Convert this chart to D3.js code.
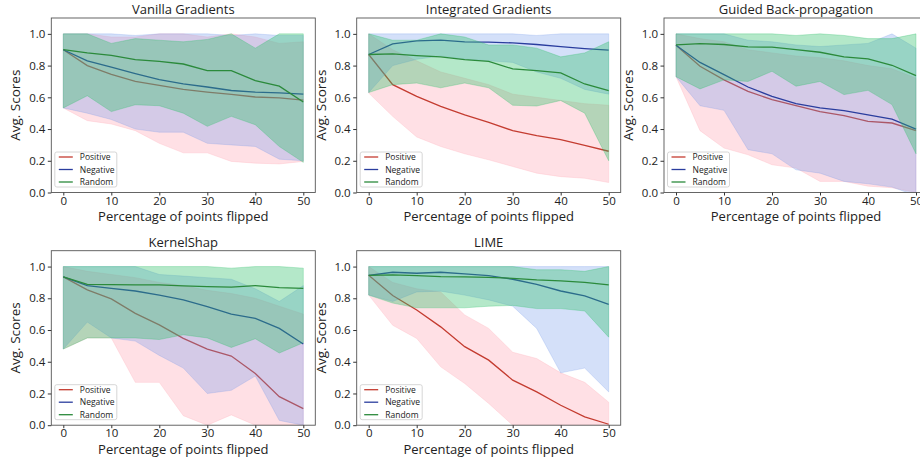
<!DOCTYPE html>
<html>
<head>
<meta charset="utf-8">
<script src="https://cdn.jsdelivr.net/npm/d3@7"></script>
<style>
  body { margin: 0; background: #fff; }
  svg { display: block; font-family: "Open Sans", "DejaVu Sans", sans-serif; }
</style>
</head>
<body>
<div class="visualizate"></div>
<script>
'use strict'

/* percentage of points flipped */
const flips = [0, 5, 10, 15, 20, 25, 30, 35, 40, 45, 50];
const xTicks = [0, 10, 20, 30, 40, 50];
const yTicks = [0, 0.2, 0.4, 0.6, 0.8, 1.0];
const seriesNames = ['Positive', 'Negative', 'Random'];
const titles = ['Vanilla Gradients', 'Integrated Gradients', 'Guided Back-propagation', 'KernelShap', 'LIME'];

/* Vanilla Gradients */
const vgPosMean = [0.90, 0.80, 0.745, 0.70, 0.675, 0.65, 0.633, 0.618, 0.602, 0.597, 0.582];
const vgPosLow  = [0.533, 0.453, 0.432, 0.39, 0.31, 0.25, 0.25, 0.196, 0.185, 0.18, 0.196];
const vgPosHigh = [1.0, 1.0, 0.98, 0.98, 1.0, 1.0, 0.98, 1.0, 0.98, 0.94, 0.95];
const vgNegMean = [0.90, 0.83, 0.79, 0.75, 0.712, 0.685, 0.665, 0.643, 0.633, 0.628, 0.62];
const vgNegLow  = [0.533, 0.50, 0.46, 0.40, 0.38, 0.38, 0.31, 0.30, 0.29, 0.21, 0.20];
const vgNegHigh = [1.0, 1.0, 1.0, 0.99, 1.0, 1.0, 1.0, 0.99, 1.0, 0.99, 0.99];
const vgRndMean = [0.90, 0.88, 0.865, 0.838, 0.827, 0.81, 0.768, 0.768, 0.705, 0.67, 0.57];
const vgRndLow  = [0.533, 0.61, 0.51, 0.553, 0.547, 0.50, 0.417, 0.48, 0.427, 0.29, 0.19];
const vgRndHigh = [1.0, 1.0, 0.94, 0.97, 0.96, 0.95, 0.965, 1.0, 0.91, 1.0, 1.0];

/* Integrated Gradients */
const igPosMean = [0.87, 0.68, 0.606, 0.543, 0.49, 0.442, 0.39, 0.358, 0.333, 0.297, 0.26];
const igPosLow  = [0.627, 0.48, 0.35, 0.29, 0.244, 0.206, 0.164, 0.122, 0.10, 0.09, 0.063];
const igPosHigh = [1.0, 0.9, 0.83, 0.76, 0.72, 0.68, 0.62, 0.6, 0.58, 0.56, 0.55];
const igNegMean = [0.87, 0.937, 0.956, 0.96, 0.95, 0.948, 0.943, 0.933, 0.92, 0.907, 0.897];
const igNegLow  = [0.63, 0.80, 0.84, 0.86, 0.84, 0.83, 0.82, 0.76, 0.72, 0.65, 0.62];
const igNegHigh = [1.0, 1.0, 1.0, 1.0, 1.0, 1.0, 1.0, 0.99, 1.0, 1.0, 1.0];
const igRndMean = [0.87, 0.874, 0.863, 0.855, 0.838, 0.827, 0.779, 0.768, 0.754, 0.684, 0.642];
const igRndLow  = [0.63, 0.68, 0.69, 0.66, 0.69, 0.66, 0.55, 0.545, 0.58, 0.50, 0.20];
const igRndHigh = [1.0, 0.96, 0.96, 1.0, 0.98, 0.93, 0.93, 0.91, 0.855, 0.88, 0.95];

/* Guided Back-propagation */
const gbPosMean = [0.928, 0.796, 0.71, 0.638, 0.585, 0.547, 0.51, 0.484, 0.448, 0.438, 0.39];
const gbPosLow  = [0.73, 0.39, 0.28, 0.238, 0.175, 0.154, 0.07, 0.07, 0.04, 0.03, 0.0];
const gbPosHigh = [1.0, 0.97, 0.95, 0.9, 0.88, 0.86, 0.85, 0.83, 0.8, 0.78, 0.72];
const gbNegMean = [0.928, 0.82, 0.743, 0.665, 0.606, 0.56, 0.533, 0.516, 0.49, 0.463, 0.40];
const gbNegLow  = [0.73, 0.547, 0.518, 0.27, 0.244, 0.143, 0.122, 0.07, 0.055, 0.034, -0.02];
const gbNegHigh = [1.0, 1.0, 1.0, 0.96, 0.95, 0.93, 0.92, 0.93, 0.94, 1.0, 0.91];
const gbRndMean = [0.93, 0.939, 0.933, 0.918, 0.916, 0.90, 0.884, 0.855, 0.842, 0.802, 0.737];
const gbRndLow  = [0.73, 0.653, 0.71, 0.70, 0.764, 0.67, 0.70, 0.617, 0.644, 0.554, 0.244];
const gbRndHigh = [1.0, 1.0, 1.0, 1.0, 1.0, 0.99, 1.0, 0.99, 0.97, 0.97, 1.0];

/* KernelShap */
const ksPosMean = [0.935, 0.853, 0.796, 0.705, 0.632, 0.547, 0.48, 0.436, 0.326, 0.18, 0.105];
const ksPosLow  = [0.48, 0.55, 0.55, 0.27, 0.27, 0.06, 0.0, 0.065, 0.0, 0.0, 0.0];
const ksPosHigh = [1.0, 0.97, 0.95, 0.93, 0.9, 0.88, 0.85, 0.83, 0.8, 0.75, 0.7];
const ksNegMean = [0.935, 0.88, 0.863, 0.846, 0.82, 0.79, 0.747, 0.70, 0.674, 0.61, 0.512];
const ksNegLow  = [0.48, 0.65, 0.55, 0.53, 0.44, 0.36, 0.2, 0.22, 0.31, 0.03, 0.0];
const ksNegHigh = [1.0, 1.0, 1.0, 1.0, 0.95, 0.94, 0.93, 0.92, 0.86, 0.78, 0.88];
const ksRndMean = [0.935, 0.888, 0.886, 0.884, 0.884, 0.878, 0.874, 0.87, 0.88, 0.867, 0.863];
const ksRndLow  = [0.48, 0.55, 0.55, 0.55, 0.54, 0.57, 0.55, 0.49, 0.545, 0.455, 0.52];
const ksRndHigh = [1.0, 1.0, 1.0, 1.0, 1.0, 1.0, 1.0, 0.99, 1.0, 1.0, 0.99];

/* LIME */
const lmPosMean = [0.945, 0.817, 0.726, 0.62, 0.495, 0.41, 0.284, 0.21, 0.126, 0.053, 0.006];
const lmPosLow  = [0.82, 0.63, 0.547, 0.368, 0.263, 0.137, 0.0, 0.0, 0.0, 0.0, 0.0];
const lmPosHigh = [1.0, 0.9, 0.86, 0.84, 0.695, 0.61, 0.46, 0.42, 0.33, 0.27, 0.145];
const lmNegMean = [0.945, 0.964, 0.958, 0.964, 0.954, 0.943, 0.92, 0.888, 0.846, 0.815, 0.762];
const lmNegLow  = [0.82, 0.78, 0.84, 0.845, 0.82, 0.79, 0.75, 0.61, 0.33, 0.36, 0.21];
const lmNegHigh = [1.0, 1.0, 1.0, 1.0, 1.0, 1.0, 1.0, 1.0, 1.0, 1.0, 1.0];
const lmRndMean = [0.945, 0.947, 0.943, 0.937, 0.935, 0.932, 0.926, 0.916, 0.91, 0.90, 0.884];
const lmRndLow  = [0.82, 0.77, 0.74, 0.74, 0.74, 0.75, 0.755, 0.735, 0.735, 0.72, 0.555];
const lmRndHigh = [1.0, 1.0, 1.0, 1.0, 1.0, 1.0, 1.0, 0.98, 0.98, 0.97, 1.0];


let width = 920;
let height = 457;

const lineColors = ['#c43c30', '#2a3d9e', '#2b8a3b'];
const fillColors = ['#ffb6c1', '#7097ea', '#2fbf6a'];
const fillAlpha = [0.42, 0.3, 0.36];

const colLeft = [51.3, 356.7, 664];
const rowTop = [18, 250.7];
const panelW = 264;
const panelH = 174.5;

/* panel table: [mean, low, high] per series */
const panels = [
    { title: titles[0], col: 0, row: 0, series: [[vgPosMean, vgPosLow, vgPosHigh], [vgNegMean, vgNegLow, vgNegHigh], [vgRndMean, vgRndLow, vgRndHigh]] },
    { title: titles[1], col: 1, row: 0, series: [[igPosMean, igPosLow, igPosHigh], [igNegMean, igNegLow, igNegHigh], [igRndMean, igRndLow, igRndHigh]] },
    { title: titles[2], col: 2, row: 0, series: [[gbPosMean, gbPosLow, gbPosHigh], [gbNegMean, gbNegLow, gbNegHigh], [gbRndMean, gbRndLow, gbRndHigh]] },
    { title: titles[3], col: 0, row: 1, series: [[ksPosMean, ksPosLow, ksPosHigh], [ksNegMean, ksNegLow, ksNegHigh], [ksRndMean, ksRndLow, ksRndHigh]] },
    { title: titles[4], col: 1, row: 1, series: [[lmPosMean, lmPosLow, lmPosHigh], [lmNegMean, lmNegLow, lmNegHigh], [lmRndMean, lmRndLow, lmRndHigh]] }
];


const svg = d3.select('.visualizate')
              .append('svg')
              .attr('width', width)
              .attr('height', height);

function drawPanel (p, k) {
    const left = colLeft[p.col];
    const top = rowTop[p.row];
    const bottom = top + panelH;

    const xScale = d3.scaleLinear().domain([-2.5, 52.5]).range([left, left + panelW]);
    const yScale = d3.scaleLinear().domain([0, 1.1]).range([bottom, top]);
    const idx = d3.range(flips.length);

    const g = svg.append('g').attr('class', 'panel');

    g.append('clipPath')
      .attr('id', 'clip' + k)
      .append('rect')
      .attr('x', left).attr('y', top)
      .attr('width', panelW).attr('height', panelH);

    const plot = g.append('g').attr('clip-path', 'url(#clip' + k + ')');

    p.series.forEach((s, i) => {
        const [mean, low, high] = s;
        const area = d3.area()
                       .x(j => xScale(flips[j]))
                       .y0(j => yScale(low[j]))
                       .y1(j => yScale(high[j]));
        const line = d3.line()
                       .x(j => xScale(flips[j]))
                       .y(j => yScale(mean[j]));

        plot.append('path')
            .attr('d', area(idx))
            .style('fill', fillColors[i])
            .style('fill-opacity', fillAlpha[i])
            .style('stroke', fillColors[i])
            .style('stroke-opacity', fillAlpha[i])
            .style('stroke-width', 0.8);

        plot.append('path')
            .attr('d', line(idx))
            .style('fill', 'none')
            .style('stroke', lineColors[i])
            .style('stroke-width', 1.3);
    });

    /* frame */
    g.append('rect')
      .attr('x', left).attr('y', top)
      .attr('width', panelW).attr('height', panelH)
      .style('fill', 'none')
      .style('stroke', '#555')
      .style('stroke-width', 0.9);

    const xAxis = d3.axisBottom(xScale).tickValues(xTicks).tickSize(3).tickPadding(1);
    const yAxis = d3.axisLeft(yScale).tickValues(yTicks).tickSize(3.5).tickPadding(2.5)
                    .tickFormat(d3.format('.1f'));

    const gx = g.append('g')
                .attr('transform', 'translate(0,' + bottom + ')')
                .call(xAxis);
    const gy = g.append('g')
                .attr('transform', 'translate(' + left + ',0)')
                .call(yAxis);

    [gx, gy].forEach(a => {
        a.select('.domain').remove();
        a.selectAll('line').style('stroke', '#333');
        a.selectAll('text').style('font-size', '11.5px').style('fill', '#222')
         .style('font-family', '"Open Sans", sans-serif');
    });

    /* titles */
    g.append('text')
      .attr('x', left + panelW / 2)
      .attr('y', top - 4)
      .attr('text-anchor', 'middle')
      .style('font-size', '13px')
      .style('fill', '#222')
      .text(p.title);

    g.append('text')
      .attr('x', left + panelW / 2)
      .attr('y', bottom + 28.5)
      .attr('text-anchor', 'middle')
      .style('font-size', '13px')
      .style('fill', '#222')
      .text('Percentage of points flipped');

    g.append('text')
      .attr('transform', 'rotate(-90)')
      .attr('x', -(top + panelH / 2))
      .attr('y', left - 31)
      .attr('text-anchor', 'middle')
      .style('font-size', '13.5px')
      .style('fill', '#222')
      .text('Avg. Scores');

    /* legend */
    const lg = g.append('g').attr('transform', 'translate(' + (left + 3.5) + ',' + (bottom - 40.5) + ')');
    lg.append('rect')
      .attr('width', 62).attr('height', 35)
      .attr('rx', 2)
      .style('fill', '#fff').style('fill-opacity', 0.8)
      .style('stroke', '#ccc').style('stroke-width', 0.8);

    seriesNames.forEach((name, i) => {
        const yy = 5 + i * 12.5;
        lg.append('line')
          .attr('x1', 4).attr('x2', 18)
          .attr('y1', yy).attr('y2', yy)
          .style('stroke', lineColors[i])
          .style('stroke-width', 1.3);
        lg.append('text')
          .attr('x', 25).attr('y', yy + 3)
          .style('font-size', '8.5px')
          .style('fill', '#222')
          .text(name);
    });
}

panels.forEach(drawPanel);
</script>
</body>
</html>
